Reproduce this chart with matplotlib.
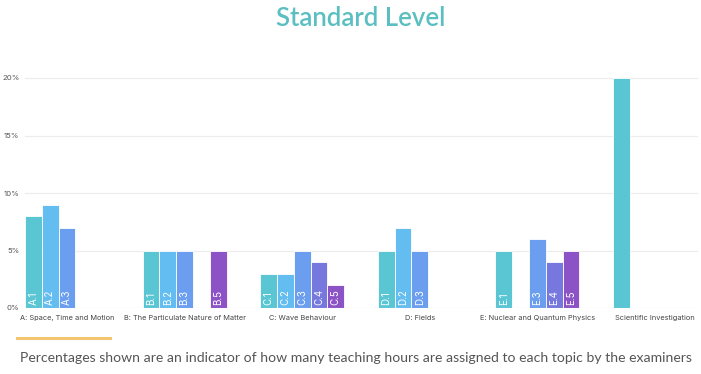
import matplotlib
matplotlib.use('Agg')
import matplotlib.pyplot as plt
import matplotlib.transforms as mtransforms

categories = ['A: Space, Time and Motion', 'B: The Particulate Nature of Matter',
              'C: Wave Behaviour', 'D: Fields', 'E: Nuclear and Quantum Physics',
              'Scientific Investigation']
# one list per slot (subtopic number 1..5), None = no bar
slot_values = [
    [8, 5, 3, 5, 5, 20],
    [9, 5, 3, 7, None, None],
    [7, 5, 5, 5, 6, None],
    [None, None, 4, None, 4, None],
    [None, 5, 2, None, 5, None],
]
prefixes = ['A', 'B', 'C', 'D', 'E', None]
yticks = [0, 5, 10, 15, 20]
ytick_labels = ['0%', '5%', '10%', '15%', '20%']

colors = ['#5AC6D3', '#63BDF0', '#6B9EEE', '#7678DE', '#8C53C6']

W, H = 701, 374
fig = plt.figure(figsize=(W / 100, H / 100), dpi=100)
ax = fig.add_axes([25 / W, (H - 308) / H, (697 - 25) / W, (308 - 78) / H])

w = 0.143
for j, vals in enumerate(slot_values):
    for i, v in enumerate(vals):
        if v is None:
            continue
        x = i + (j - 2) * w
        ax.bar(x, v, width=w, color=colors[j], edgecolor='white', linewidth=0.6, zorder=3)
        if prefixes[i]:
            off = mtransforms.offset_copy(ax.transData, fig=fig, x=0, y=3, units='dots')
            ax.text(x, 0, f'{prefixes[i]}.{j + 1}', rotation=90, ha='center', va='bottom',
                    color='white', fontsize=7, family='Inter', transform=off, zorder=4)

ax.set_xlim(-2.5 * w, 5 + 2.5 * w)
ax.set_ylim(0, 20)
ax.set_yticks(yticks)
ax.set_yticklabels(ytick_labels, fontsize=5.6, color='#555555', family='Inter')
ax.set_xticks(range(len(categories)))
ax.set_xticklabels(categories, fontsize=5.3, color='#444444', family='Inter')
ax.tick_params(length=0, pad=5)
ax.tick_params(axis='y', pad=4)
for y in yticks[1:]:
    ax.axhline(y, color='#ECECEC', linewidth=0.8, zorder=0, clip_on=False)
ax.axhline(0, color='#D5D5D5', linewidth=0.8, zorder=5)
for s in ax.spines.values():
    s.set_visible(False)

fig.text(361 / W, 1 - 18 / H, 'Standard Level', ha='center', va='center',
         fontsize=18.5, color='#5BBFC1', family='Lato', weight='semibold')
fig.add_artist(plt.Line2D([17 / W, 110 / W], [1 - 338 / H, 1 - 338 / H],
                          color='#F2C66E', linewidth=2.2))
fig.text(20 / W, 1 - 358 / H,
         'Percentages shown are an indicator of how many teaching hours are assigned to each topic by the examiners',
         ha='left', va='center', fontsize=10.1, color='#555555', family='Lato')

fig.savefig('out.png', dpi=100)
